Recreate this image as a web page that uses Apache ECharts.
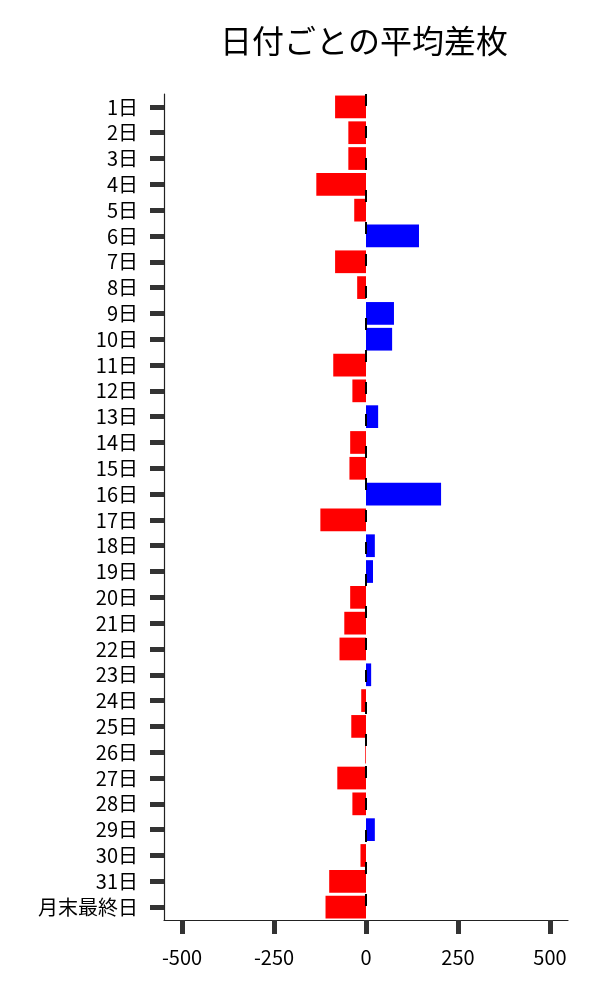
<!DOCTYPE html>
<html>
<head>
<meta charset="utf-8">
<script src="https://cdn.jsdelivr.net/npm/echarts@6/dist/echarts.min.js"></script>
<style>
  html, body { margin: 0; padding: 0; background: #fff; }
  #main { width: 600px; height: 1000px; }
</style>
</head>
<body>
<div id="main"></div>
<script>
// 日付ごとの平均差枚
const days = ['1日', '2日', '3日', '4日', '5日', '6日', '7日', '8日', '9日', '10日',
  '11日', '12日', '13日', '14日', '15日', '16日', '17日', '18日', '19日', '20日',
  '21日', '22日', '23日', '24日', '25日', '26日', '27日', '28日', '29日', '30日',
  '31日', '月末最終日']
const avgDiff = [-84, -48, -48, -135, -32, 144, -84, -24, 76, 71,
  -89, -37, 33, -43, -45, 204, -124, 24, 19, -43,
  -59, -72, 14, -13, -40, -2, -78, -37, 24, -15,
  -100, -110]

const font = '"Noto Sans CJK JP", "Noto Sans", sans-serif'
const tickStyle = { color: '#333', width: 5 }
const spineStyle = { color: '#222', width: 1.2 }

const myChart = echarts.init(document.getElementById('main'))
myChart.setOption({
  animation: false,
  title: {
    text: '日付ごとの平均差枚',
    left: 359,
    top: 20,
    textAlign: 'center',
    textStyle: { fontFamily: font, fontSize: 32, fontWeight: 'normal', color: '#000' }
  },
  // grid 0: -500..500 の描画域, grid 1: 枠（軸線とカテゴリラベル）
  grid: [
    { left: 182, right: 50, top: 94, bottom: 80 },
    { left: 164, right: 32, top: 94, bottom: 80 }
  ],
  xAxis: [{
    type: 'value',
    gridIndex: 0,
    min: -500,
    max: 500,
    interval: 250,
    splitLine: { show: false },
    axisLine: { show: false },
    axisTick: { show: true, length: 14, lineStyle: tickStyle },
    axisLabel: { margin: 27, fontFamily: font, fontSize: 20, color: '#000' }
  }, {
    type: 'value',
    gridIndex: 1,
    min: 0,
    max: 1,
    splitLine: { show: false },
    axisLine: { show: true, onZero: false, lineStyle: spineStyle },
    axisTick: { show: false },
    axisLabel: { show: false }
  }],
  yAxis: [{
    type: 'category',
    gridIndex: 0,
    data: days,
    inverse: true,
    show: false
  }, {
    type: 'category',
    gridIndex: 1,
    data: days,
    inverse: true,
    axisLine: { show: true, onZero: false, lineStyle: spineStyle },
    axisTick: { show: true, alignWithLabel: true, interval: 0, length: 14, lineStyle: tickStyle },
    axisLabel: { interval: 0, margin: 26, fontFamily: font, fontSize: 20, color: '#000' }
  }],
  series: [{
    type: 'bar',
    xAxisIndex: 0,
    yAxisIndex: 0,
    data: avgDiff,
    barCategoryGap: '12%',
    itemStyle: {
      color: (p) => (p.value >= 0 ? '#0000ff' : '#ff0000')
    },
    markLine: {
      silent: true,
      symbol: 'none',
      label: { show: false },
      lineStyle: { color: '#000', width: 2, type: [12, 20] },
      data: [{ xAxis: 0 }]
    }
  }]
})
</script>
</body>
</html>
